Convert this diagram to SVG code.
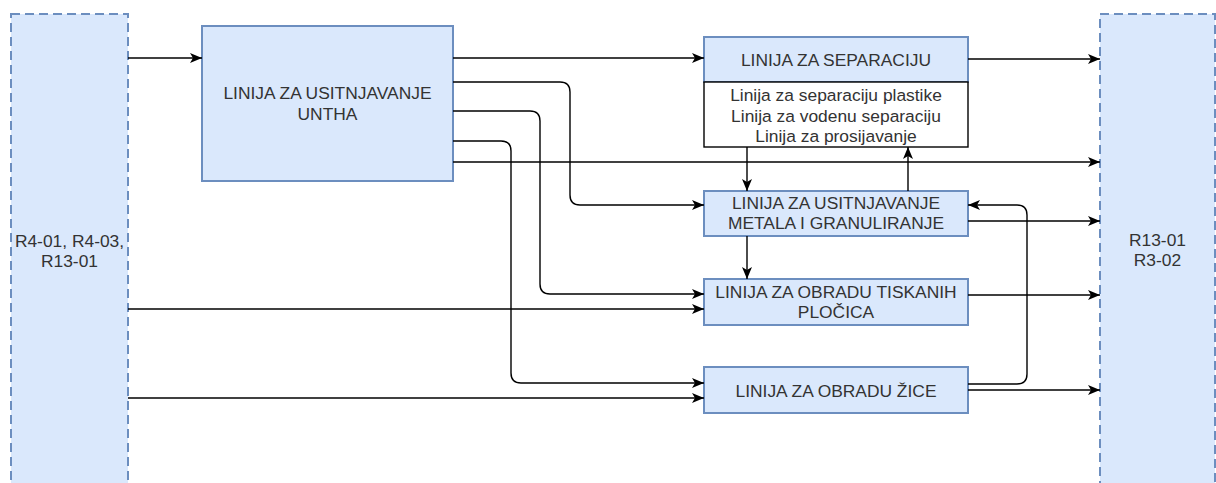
<svg xmlns="http://www.w3.org/2000/svg" width="1216" height="483" viewBox="0 0 1216 483">
<style>
.box{fill:#dae8fc;stroke:#6c8ebf;stroke-width:2}
.ext{fill:#dae8fc;stroke:#6c8ebf;stroke-width:2;stroke-dasharray:9 5}
.sub{fill:#ffffff;stroke:#000000;stroke-width:1.4}
.t{font-family:"Liberation Sans",Arial,sans-serif;font-size:17.4px;fill:#333333;text-anchor:middle}
.c{fill:none;stroke:#000000;stroke-width:1.4;marker-end:url(#arr)}
</style>
<defs>
<marker id="arr" markerUnits="userSpaceOnUse" markerWidth="14" markerHeight="12" refX="12" refY="5" orient="auto" viewBox="0 0 14 10">
<path d="M0,0 L12,5 L0,10 L3,5 Z" fill="#000000"/>
</marker>
</defs>
<rect width="1216" height="483" fill="#ffffff"/>
<g id="src">
<rect class="ext" x="11" y="14" width="117" height="480"/>
<text class="t" x="69.5" y="247">R4-01, R4-03,</text>
<text class="t" x="69.5" y="267">R13-01</text>
</g>
<g id="dst">
<rect class="ext" x="1100" y="14" width="115" height="480"/>
<text class="t" x="1157.5" y="246">R13-01</text>
<text class="t" x="1157.5" y="266">R3-02</text>
</g>
<g id="untha">
<rect class="box" x="202" y="26" width="251" height="155"/>
<text class="t" x="327.5" y="99">LINIJA ZA USITNJAVANJE</text>
<text class="t" x="327.5" y="120">UNTHA</text>
</g>
<g id="separacija">
<rect class="box" x="704" y="37" width="264" height="45"/>
<text class="t" x="836" y="65.5">LINIJA ZA SEPARACIJU</text>
<rect class="sub" x="704" y="82" width="264" height="65"/>
<text class="t" x="836" y="101">Linija za separaciju plastike</text>
<text class="t" x="836" y="122">Linija za vodenu separaciju</text>
<text class="t" x="836" y="142">Linija za prosijavanje</text>
</g>
<g id="metal">
<rect class="box" x="704" y="191" width="264" height="45"/>
<text class="t" x="836" y="209">LINIJA ZA USITNJAVANJE</text>
<text class="t" x="836" y="229">METALA I GRANULIRANJE</text>
</g>
<g id="tiskane">
<rect class="box" x="704" y="279" width="264" height="46"/>
<text class="t" x="836" y="298">LINIJA ZA OBRADU TISKANIH</text>
<text class="t" x="836" y="318">PLOČICA</text>
</g>
<g id="zica">
<rect class="box" x="704" y="367" width="264" height="46"/>
<text class="t" x="836" y="397">LINIJA ZA OBRADU ŽICE</text>
</g>
<g id="connectors">
<path class="c" d="M128,58 H202"/>
<path class="c" d="M453,58 H704"/>
<path class="c" d="M453,82 H560 Q570,82 570,92 V195 Q570,205 580,205 H704"/>
<path class="c" d="M453,111 H530 Q540,111 540,121 V284 Q540,294 550,294 H704"/>
<path class="c" d="M453,141 H501 Q511,141 511,151 V373 Q511,383 521,383 H704"/>
<path class="c" d="M453,162 H1100"/>
<path class="c" d="M968,59 H1100"/>
<path class="c" d="M747,147 V191"/>
<path class="c" d="M908,191 V147"/>
<path class="c" d="M968,221 H1100"/>
<path class="c" d="M747,236 V279"/>
<path class="c" d="M128,309 H704"/>
<path class="c" d="M128,398 H704"/>
<path class="c" d="M968,295 H1100"/>
<path class="c" d="M968,384 H1017 Q1027,384 1027,374 V215 Q1027,205 1017,205 H968"/>
<path class="c" d="M968,390 H1100"/>
</g>
</svg>
